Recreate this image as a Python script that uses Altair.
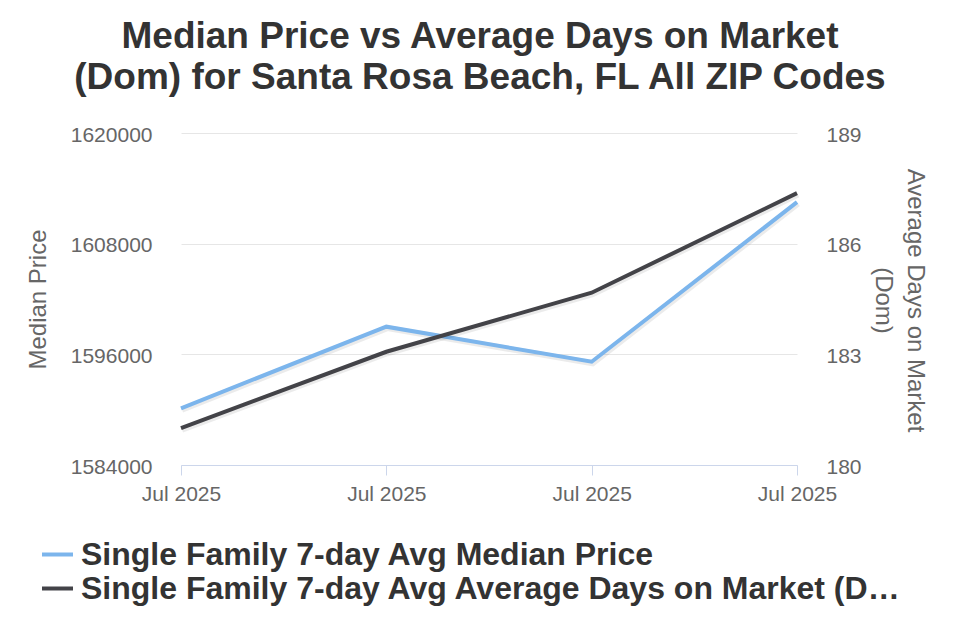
import altair as alt
import pandas as pd

# Weekly observation dates (all fall in July 2025)
dates = ["2025-07-08T00:00:00", "2025-07-15T00:00:00", "2025-07-22T00:00:00", "2025-07-29T00:00:00"]
median_price = [1590150, 1599000, 1595200, 1612500]
avg_dom = [181.0, 183.07, 184.67, 187.37]

price_series = "Single Family 7-day Avg Median Price"
dom_series = "Single Family 7-day Avg Average Days on Market (Dom)"
series_names = [price_series, dom_series]
series_colors = ["#7cb5ec", "#434348"]

price_ticks = [1584000, 1596000, 1608000, 1620000]
dom_ticks = [180, 183, 186, 189]

df_price = pd.DataFrame({"date": dates, "value": median_price, "series": price_series})
df_dom = pd.DataFrame({"date": dates, "value": avg_dom, "series": dom_series})

FONT = "Liberation Sans"
GREY = "#666666"


def tick_dt(s):
    d = pd.Timestamp(s)
    return alt.DateTime(year=d.year, month=d.month, date=d.day)


x_enc = alt.X(
    "date:T",
    scale=alt.Scale(domain=[tick_dt(dates[0]), tick_dt(dates[-1])]),
    axis=alt.Axis(
        values=[tick_dt(d) for d in dates],
        format="%b %Y",
        title=None,
        grid=False,
        domainColor="#ccd6eb",
        tickColor="#ccd6eb",
        tickSize=10,
        labelFontSize=21,
        labelColor=GREY,
        labelFont=FONT,
        labelPadding=8,
        labelFlush=False,
        labelOverlap=False,
    ),
)

color_enc = alt.Color(
    "series:N",
    scale=alt.Scale(domain=series_names, range=series_colors),
    legend=alt.Legend(
        title=None,
        orient="none",
        legendX=-141,
        legendY=404,
        direction="vertical",
        symbolType="stroke",
        symbolStrokeWidth=4,
        symbolSize=961,
        labelFontSize=32,
        labelFont=FONT,
        labelFontWeight="bold",
        labelColor="#333333",
        labelLimit=836,
        labelOffset=6,
        rowPadding=0,
    ),
)


def series_layer(df, lo, hi, axis):
    y_enc = alt.Y("value:Q", scale=alt.Scale(domain=[lo, hi], nice=False, zero=False), axis=axis)
    # soft drop shadow under each series line
    shadow = alt.Chart(df).mark_line(
        strokeWidth=6, color="#000000", opacity=0.08, xOffset=1, yOffset=1.5
    ).encode(x=x_enc, y=y_enc)
    line = alt.Chart(df).mark_line(strokeWidth=4).encode(x=x_enc, y=y_enc, color=color_enc)
    return alt.layer(shadow, line)


left_axis = alt.Axis(
    values=price_ticks,
    format="d",
    orient="left",
    title="Median Price",
    titleFontSize=24,
    titleFont=FONT,
    titleFontWeight="normal",
    titleColor=GREY,
    titleAngle=-90,
    titleX=-143,
    titleY=166,
    titleAlign="center",
    titleBaseline="middle",
    labelFontSize=21,
    labelFont=FONT,
    labelColor=GREY,
    labelPadding=29,
    labelOffset=2,
    ticks=False,
    domain=False,
    grid=True,
    gridColor="#e6e6e6",
    gridWidth=1,
)

right_axis = alt.Axis(
    values=dom_ticks,
    orient="right",
    title=["Average Days on Market", "(Dom)"],
    titleFontSize=24,
    titleFont=FONT,
    titleFontWeight="normal",
    titleColor=GREY,
    titleAngle=90,
    titleX=117,
    titleY=167,
    titleAlign="center",
    titleBaseline="middle",
    titleLineHeight=32,
    labelFontSize=21,
    labelFont=FONT,
    labelColor=GREY,
    labelPadding=29,
    labelOffset=2,
    ticks=False,
    domain=False,
    grid=False,
)

price_layer = series_layer(df_price, 1584000, 1620000, left_axis)
dom_layer = series_layer(df_dom, 180, 189, right_axis)

chart = (
    alt.layer(price_layer, dom_layer)
    .resolve_scale(y="independent")
    .properties(
        width=616,
        height=332,
        autosize=alt.AutoSizeParams(type="none"),
        padding={"left": 181, "top": 133, "right": 163, "bottom": 175},
        title=alt.TitleParams(
            text=["Median Price vs Average Days on Market", "(Dom) for Santa Rosa Beach, FL All ZIP Codes"],
            fontSize=37,
            font=FONT,
            fontWeight="bold",
            color="#333333",
            anchor="middle",
            dx=-9,
            lineHeight=41,
            offset=27,
        ),
    )
    .configure(background="#ffffff")
    .configure_view(strokeWidth=0, stroke="transparent")
    .configure_axisX(grid=False)
)

chart.save("out.html", embed_options={"renderer": "svg", "actions": False})
